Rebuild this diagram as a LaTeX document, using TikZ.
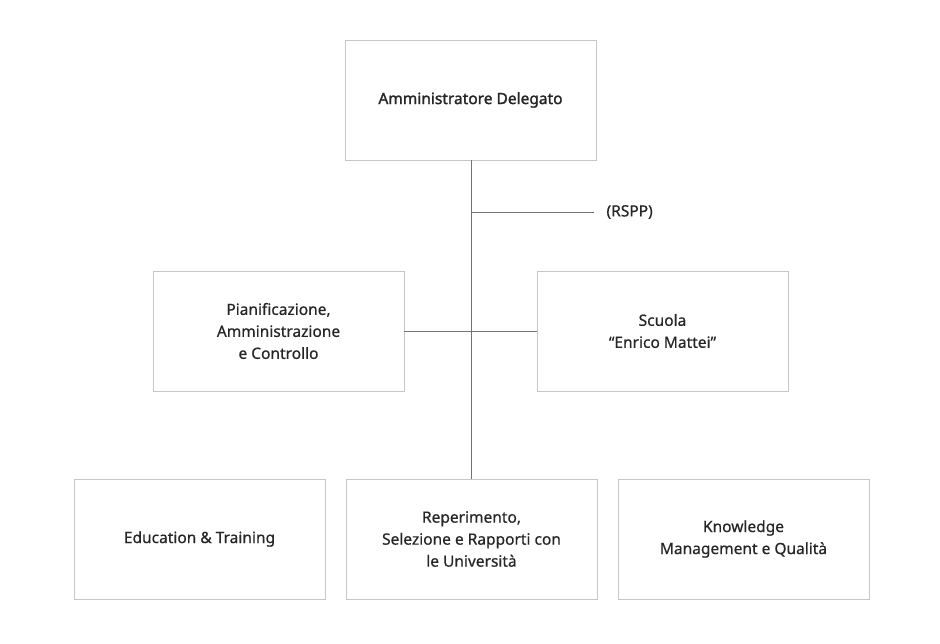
\documentclass[tikz,border=0pt]{standalone}
\usepackage{fontspec}
\setmainfont{Noto Sans}[FakeBold=0.6]
\newfontfamily\adfont{Noto Sans}[FakeBold=1.6]
\begin{document}
\begin{tikzpicture}[x=1pt,y=-1pt,
  box/.style={draw=black!22,line width=0.8pt,minimum width=251pt,minimum height=120pt,align=center,text=black!85,font=\fontsize{15.5}{22}\selectfont},
  ln/.style={draw=black!55,line width=0.7pt}]
\useasboundingbox[fill=white] (0,0) rectangle (940,643);
\node[box,font=\fontsize{15.5}{22}\selectfont\adfont] (ad) at (470.5,100) {Amministratore Delegato};
\node[box] (pac) at (278.5,331) {Pianificazione,\\Amministrazione\\e Controllo};
\node[box] (sc) at (662.5,331) {Scuola\\“Enrico Mattei”};
\node[box] (et) at (199.5,539) {Education \& Training};
\node[box] (rs) at (471.5,539) {Reperimento,\\Selezione e Rapporti con\\le Università};
\node[box] (km) at (743.5,539) {Knowledge\\Management e Qualità};
\coordinate (r1) at (471,212);
\coordinate (r2) at (594,212);
\node[anchor=west,text=black!85,font=\fontsize{15.5}{22}\selectfont] (rspp) at (603,212) {(RSPP)};
\draw[ln] (ad.south -| r1) -- (rs.north -| r1);
\draw[ln] (r1) -- (r2);
\draw[ln] (pac.east) -- (sc.west);
\end{tikzpicture}
\end{document}
